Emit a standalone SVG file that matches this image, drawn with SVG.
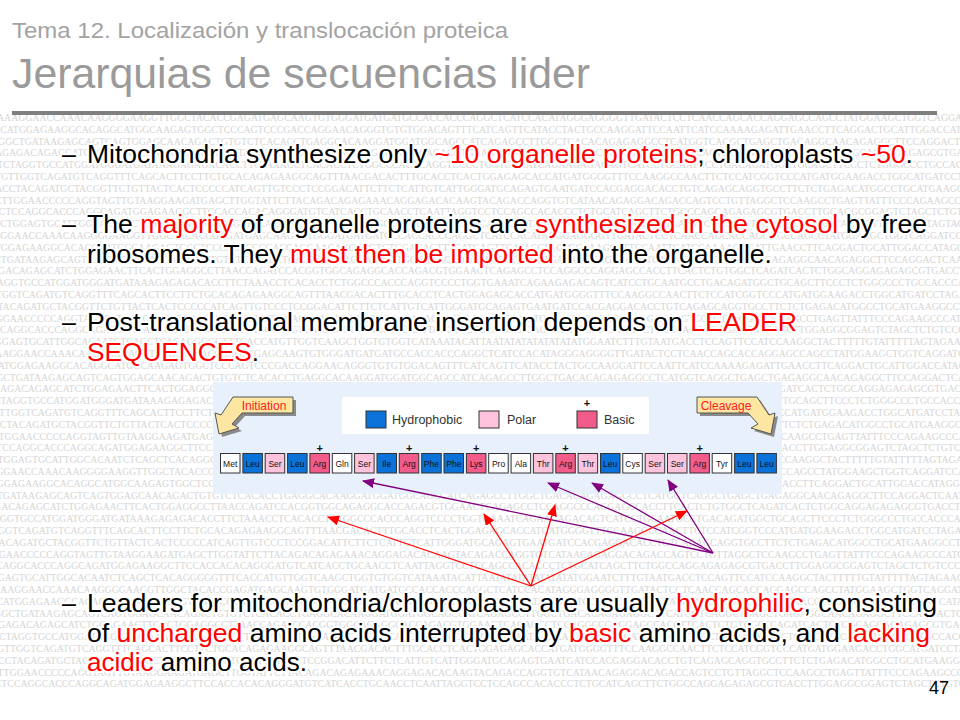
<svg xmlns="http://www.w3.org/2000/svg" xmlns:xlink="http://www.w3.org/1999/xlink" width="960" height="720" viewBox="0 0 960 720">
<style>
.dna{font-family:"Liberation Serif","Times New Roman",serif;font-size:9.8px;fill:#d5d5d5}
.t1{font-family:"Liberation Sans",Arial,sans-serif;font-size:21.5px;fill:#a3a3a3}
.t2{font-family:"Liberation Sans",Arial,sans-serif;font-size:42px;fill:#9a9a9a}
.b{font-family:"Liberation Sans",Arial,sans-serif;font-size:25px;fill:#000;stroke:#fff;stroke-width:4;stroke-linejoin:round;paint-order:stroke}
.r{fill:#ff0000}
.pg{font-family:"Liberation Sans",Arial,sans-serif;font-size:18px;fill:#000}
.leg{font-family:"Liberation Sans",Arial,sans-serif;font-size:12.5px;fill:#333}
.sq{stroke:#333;stroke-width:1}
.aa{stroke:#333;stroke-width:1}
.aat{font-family:"Liberation Sans",Arial,sans-serif;font-size:8.5px;fill:#111;text-anchor:middle}
.plus{font-family:"Liberation Sans",Arial,sans-serif;font-size:11px;fill:#111;text-anchor:middle;font-weight:bold}
.hyd{fill:#0b72d9}.pol{fill:#ffc4dc}.bas{fill:#f25c8a}.neu{fill:#ffffff}
.call{fill:#fde6a2;stroke:#555;stroke-width:1}
.shadow{fill:#8a8a8a}
.callt{font-family:"Liberation Sans",Arial,sans-serif;font-size:12px;fill:#ff2020;text-anchor:middle}
.red{stroke:#ff0000;stroke-width:1.3;fill:none}
.pur{stroke:#800080;stroke-width:1.3;fill:none}
</style>
<defs>
<marker id="ahr" markerUnits="userSpaceOnUse" markerWidth="12" markerHeight="10" refX="11" refY="5" orient="auto"><path d="M0,0 L12,5 L0,10 Z" fill="#ff0000"/></marker>
<marker id="ahp" markerUnits="userSpaceOnUse" markerWidth="12" markerHeight="10" refX="11" refY="5" orient="auto"><path d="M0,0 L12,5 L0,10 Z" fill="#800080"/></marker>
<clipPath id="bgclip"><rect x="0" y="113" width="960" height="579"/></clipPath>
<g id="blk">
<text class="dna" x="-3" y="0">AAAGGAACCAAACAAGGGGAAGGTTGGCTACACCGAGATGAGCAAGTGTGGGATGATGATGCCACCACCCAGGCTCATCCACATAGGGAGGGGTTGATACTCCTCAACCAGCACCAGGAGCCAGCCTATGGAAGCTGGTCAGGATCCAGTTGACCAGGTCATGCAGT</text>
<text class="dna" x="-20" y="11.8">CACCATGGAGAAGGCACAGGCATGGCAAGAGTGGCTCCCAGTCCCGACCAGGAACAGGGTGTGTGGACAGTTTCATCAGTTCATACCTACTGCCAAGGATTCCAATTCATCCAAAAGAGATTGAACCTTCAGGACTGCATTGGACCATAGGATTGCAGTCCA</text>
<text class="dna" x="-9" y="23.6">AGGCTGATAAGAGCAGTCAGTGGAGCAACAGACTGTGTCTCACACCTGAGGCACAAGGATGGATGGCAGCCATCAGAGCCTTGGCTGACACAGAGAGGCCTCATGGTCAGGCTGAGCTGAGAGGCAACAGAGGCTTCCAGGACTCAATGGTCCTAGGACAT</text>
<text class="dna" x="-31" y="35.4">GACTAGAGACAGAGCATCTGGAGAACTTCACTGGAGGCCTTAACCAGATCCACGGTGGCAGAGGCACCAGACGTGGAACTCAGAGCCTCCAGGCCCAGGAGCCACCTTCACTCTGTGGCTCAGATCACTCTGGCAGGAGAGAGCGTGACCTTGGCAGTTCAGA</text>
<text class="dna" x="-15" y="47.2">ATTCTAGGTGCCATGGATGGGATGATAAAGAGAGACACCTTCTAAACCTCACACCTCTGGCCCACCCAGGTCCCCTGGTGAAATCAGAAGAGACAGTCATCCTGCAATGCCTGACAGATGGCTGCAGCTTCCCTCTGGGCCCTGCCACCCACGGAGGTCAT</text>
<text class="dna" x="-5" y="59">TGTTGGTCAGATGTCAGGTTTCAGCACTTCCTTCTGCACAGAGAAGGCAGTTTAACGACACTTTGCACCTCACTGGAGAGCACCATGATGGGGTTTCCAAGGCCAACTTCTCCATCGGTCCCATGATGGAAGACCTGGCATGATCCTAGAGCCTTGACCAG</text>
<text class="dna" x="-26" y="70.8">GGGACCTACAGATGCTACGGTTCTGTTACTCACTCCCCCATCAGTTGTCCCTCCGGACATTCTTCTCATTGTCATTGGGATGCAGAGTGAATGATCCACGAGGACACCTGTCAGAGCAGGTGCCTTCTCTGAGACATGGCCTGCATGAAGGCCTGCGGCTA</text>
<text class="dna" x="-12" y="82.6">ACTTGGAACCCCCAGGTAGTTGTAAGGAAGATGAGCTTGGTATTCTTACAGACAGAGAAACAGGAGACACAAGTACAGACCAGGTGTCATAACAGAGGACAGACCAGTCCTGTTAGGCTCCAAGCCTGAGTTATTTCCCAGAAGCCCATCCTGGCCTCAGG</text>
<text class="dna" x="-36" y="94.4">CAGGACTCCAGGCACCCAGGCAGATGGAGAAGGCTTCCACCACACAGGGATGTCATCACCTGCAACCTCAATTAGGTCCTCCAGCCACACCCTCTGCATCAGCTTCTGGCCAGGAGAGAGCGTGACCTTGGAGGCGGAGTCTAGCTCTGTCCCCTATGGAC</text>
<text class="dna" x="-7" y="106.2">GCTGGAGTGCATTGGCACAATCTCAGCTCACAGGGGGTTTCACCATGTTGGTCAAGCTGGTGTGGTCATAAATACATTAATATATATATATATATGGAATCTTTGTAATGACCTCCAGTTCCATCCAAGGCTACTTTTTGTATTTTTAGTAGAAGGTCTCA</text>
</g>
</defs>
<rect width="960" height="720" fill="#ffffff"/>
<g id="background" clip-path="url(#bgclip)">
<use xlink:href="#blk" href="#blk" x="0" y="121"/>
<use xlink:href="#blk" href="#blk" x="-18" y="239"/>
<use xlink:href="#blk" href="#blk" x="-9" y="357"/>
<use xlink:href="#blk" href="#blk" x="-22" y="475"/>
<use xlink:href="#blk" href="#blk" x="-4" y="593"/>
</g>
<g id="title">
<text class="t1" x="12" y="38" textLength="496" lengthAdjust="spacingAndGlyphs">Tema 12. Localización y translocación proteica</text>
<text class="t2" x="12" y="88" textLength="578" lengthAdjust="spacingAndGlyphs">Jerarquias de secuencias lider</text>
<line x1="12" y1="113" x2="937" y2="113" stroke="#7f7f7f" stroke-width="4"/>
</g>
<g id="bullet1">
<text class="b" x="62" y="163">–</text>
<text class="b" x="87" y="163" textLength="826" lengthAdjust="spacingAndGlyphs">Mitochondria synthesize only <tspan class="r">~10 organelle proteins</tspan>; chloroplasts <tspan class="r">~50</tspan>.</text>
</g>
<g id="bullet2">
<text class="b" x="62" y="233">–</text>
<text class="b" x="87" y="233" textLength="840" lengthAdjust="spacingAndGlyphs">The <tspan class="r">majority</tspan> of organelle proteins are <tspan class="r">synthesized in the cytosol</tspan> by free</text>
<text class="b" x="87" y="262.5" textLength="685" lengthAdjust="spacingAndGlyphs">ribosomes. They <tspan class="r">must then be imported</tspan> into the organelle.</text>
</g>
<g id="bullet3">
<text class="b" x="62" y="331">–</text>
<text class="b" x="87" y="331" textLength="710" lengthAdjust="spacingAndGlyphs">Post-translational membrane insertion depends on <tspan class="r">LEADER</tspan></text>
<text class="b" x="87" y="361" textLength="172" lengthAdjust="spacingAndGlyphs"><tspan class="r">SEQUENCES</tspan>.</text>
</g>
<g id="panel">
<rect x="213" y="382" width="569" height="112" fill="#e8f1fb"/>
</g>
<g id="legend">
<rect x="342" y="397" width="307" height="37" fill="#ffffff"/>
<rect class="sq hyd" x="366" y="411" width="20" height="17"/>
<text class="leg" x="392" y="424">Hydrophobic</text>
<rect class="sq pol" x="479" y="411" width="20" height="17"/>
<text class="leg" x="507" y="424">Polar</text>
<rect class="sq bas" x="577" y="411" width="20" height="17"/>
<text class="plus" x="587" y="407">+</text>
<text class="leg" x="604" y="424">Basic</text>
</g>
<g id="initiation">
<path class="shadow" transform="translate(3,3)" d="M293,397 H233 L221,415 L215,413 L219,434 L239,428 L232,424 L242,413 H293 Z"/>
<path class="call" d="M293,397 H233 L221,415 L215,413 L219,434 L239,428 L232,424 L242,413 H293 Z"/>
<text class="callt" x="264" y="410">Initiation</text>
</g>
<g id="cleavage">
<path class="shadow" transform="translate(3,3)" d="M697,397 H757 L769,415 L775,413 L771,434 L751,428 L758,424 L748,413 H697 Z"/>
<path class="call" d="M697,397 H757 L769,415 L775,413 L771,434 L751,428 L758,424 L748,413 H697 Z"/>
<text class="callt" x="726" y="410">Cleavage</text>
</g>
<g id="sequence">
<rect class="aa neu" x="220.5" y="453.5" width="19.5" height="19.5"/><text class="aat" x="230.2" y="466.5">Met</text>
<rect class="aa hyd" x="242.9" y="453.5" width="19.5" height="19.5"/><text class="aat" x="252.6" y="466.5">Leu</text>
<rect class="aa pol" x="265.2" y="453.5" width="19.5" height="19.5"/><text class="aat" x="275" y="466.5">Ser</text>
<rect class="aa hyd" x="287.6" y="453.5" width="19.5" height="19.5"/><text class="aat" x="297.3" y="466.5">Leu</text>
<rect class="aa bas" x="309.9" y="453.5" width="19.5" height="19.5"/><text class="aat" x="319.7" y="466.5">Arg</text><text class="plus" x="319.7" y="452">+</text>
<rect class="aa neu" x="332.3" y="453.5" width="19.5" height="19.5"/><text class="aat" x="342" y="466.5">Gln</text>
<rect class="aa pol" x="354.6" y="453.5" width="19.5" height="19.5"/><text class="aat" x="364.4" y="466.5">Ser</text>
<rect class="aa hyd" x="377" y="453.5" width="19.5" height="19.5"/><text class="aat" x="386.7" y="466.5">Ile</text>
<rect class="aa bas" x="399.3" y="453.5" width="19.5" height="19.5"/><text class="aat" x="409.1" y="466.5">Arg</text><text class="plus" x="409.1" y="452">+</text>
<rect class="aa hyd" x="421.7" y="453.5" width="19.5" height="19.5"/><text class="aat" x="431.4" y="466.5">Phe</text>
<rect class="aa hyd" x="444" y="453.5" width="19.5" height="19.5"/><text class="aat" x="453.8" y="466.5">Phe</text>
<rect class="aa bas" x="466.4" y="453.5" width="19.5" height="19.5"/><text class="aat" x="476.1" y="466.5">Lys</text><text class="plus" x="476.1" y="452">+</text>
<rect class="aa neu" x="488.7" y="453.5" width="19.5" height="19.5"/><text class="aat" x="498.5" y="466.5">Pro</text>
<rect class="aa neu" x="511.1" y="453.5" width="19.5" height="19.5"/><text class="aat" x="520.8" y="466.5">Ala</text>
<rect class="aa pol" x="533.4" y="453.5" width="19.5" height="19.5"/><text class="aat" x="543.2" y="466.5">Thr</text>
<rect class="aa bas" x="555.8" y="453.5" width="19.5" height="19.5"/><text class="aat" x="565.5" y="466.5">Arg</text><text class="plus" x="565.5" y="452">+</text>
<rect class="aa pol" x="578.1" y="453.5" width="19.5" height="19.5"/><text class="aat" x="587.9" y="466.5">Thr</text>
<rect class="aa hyd" x="600.5" y="453.5" width="19.5" height="19.5"/><text class="aat" x="610.2" y="466.5">Leu</text>
<rect class="aa neu" x="622.8" y="453.5" width="19.5" height="19.5"/><text class="aat" x="632.6" y="466.5">Cys</text>
<rect class="aa pol" x="645.2" y="453.5" width="19.5" height="19.5"/><text class="aat" x="654.9" y="466.5">Ser</text>
<rect class="aa pol" x="667.5" y="453.5" width="19.5" height="19.5"/><text class="aat" x="677.3" y="466.5">Ser</text>
<rect class="aa bas" x="689.9" y="453.5" width="19.5" height="19.5"/><text class="aat" x="699.6" y="466.5">Arg</text><text class="plus" x="699.6" y="452">+</text>
<rect class="aa neu" x="712.2" y="453.5" width="19.5" height="19.5"/><text class="aat" x="722" y="466.5">Tyr</text>
<rect class="aa hyd" x="734.6" y="453.5" width="19.5" height="19.5"/><text class="aat" x="744.3" y="466.5">Leu</text>
<rect class="aa hyd" x="756.9" y="453.5" width="19.5" height="19.5"/><text class="aat" x="766.7" y="466.5">Leu</text>
</g>
<g id="connectors">
<line class="pur" x1="713" y1="553" x2="363" y2="481" marker-end="url(#ahp)"/>
<line class="pur" x1="713" y1="553" x2="548" y2="483" marker-end="url(#ahp)"/>
<line class="pur" x1="713" y1="553" x2="592" y2="483" marker-end="url(#ahp)"/>
<line class="pur" x1="713" y1="553" x2="668" y2="480" marker-end="url(#ahp)"/>
<line class="red" x1="531" y1="586" x2="328" y2="517" marker-end="url(#ahr)"/>
<line class="red" x1="531" y1="586" x2="484" y2="514" marker-end="url(#ahr)"/>
<line class="red" x1="531" y1="586" x2="555" y2="505" marker-end="url(#ahr)"/>
<line class="red" x1="531" y1="586" x2="687" y2="511" marker-end="url(#ahr)"/>
</g>
<g id="bullet4">
<text class="b" x="62" y="612">–</text>
<text class="b" x="87" y="612" textLength="850" lengthAdjust="spacingAndGlyphs">Leaders for mitochondria/chloroplasts are usually <tspan class="r">hydrophilic</tspan>, consisting</text>
<text class="b" x="87" y="641.5" textLength="843" lengthAdjust="spacingAndGlyphs">of <tspan class="r">uncharged</tspan> amino acids interrupted by <tspan class="r">basic</tspan> amino acids, and <tspan class="r">lacking</tspan></text>
<text class="b" x="87" y="671" textLength="220" lengthAdjust="spacingAndGlyphs"><tspan class="r">acidic</tspan> amino acids.</text>
</g>
<g id="page">
<text class="pg" x="949" y="694" text-anchor="end">47</text>
</g>
</svg>
